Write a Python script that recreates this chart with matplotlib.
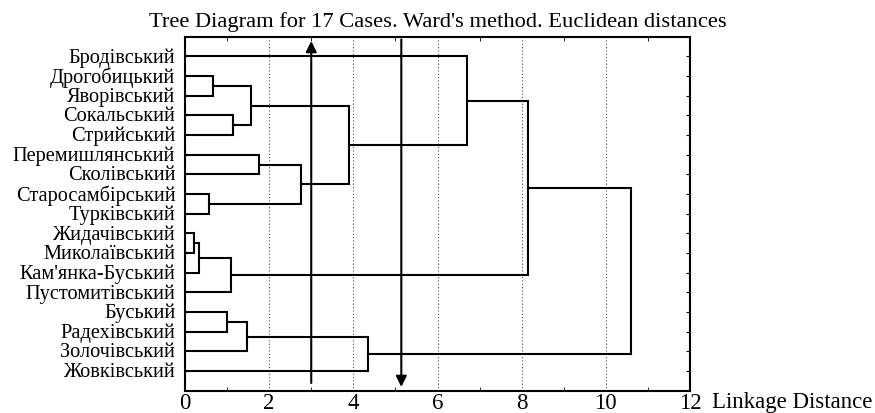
import matplotlib
matplotlib.use("Agg")
import matplotlib.pyplot as plt
import matplotlib.transforms as mtransforms
from matplotlib.ticker import MultipleLocator

# === DATA ===
labels = [
    "Бродівський", "Дрогобицький", "Яворівський", "Сокальський", "Стрийський",
    "Перемишлянський", "Сколівський", "Старосамбірський", "Турківський",
    "Жидачівський", "Миколаївський", "Кам'янка-Буський", "Пустомитівський",
    "Буський", "Радехівський", "Золочівський", "Жовківський",
]
# merges: (child a, child b, linkage distance); leaves 0..16, new clusters 17..
merge_a = [9, 17, 7, 1, 13, 18, 3, 21, 20, 5, 26, 25, 24, 0, 30, 31]
merge_b = [10, 11, 8, 2, 14, 12, 4, 15, 23, 6, 19, 27, 16, 28, 22, 29]
merge_dist = [0.22, 0.34, 0.57, 0.67, 0.99, 1.10, 1.13, 1.47, 1.56, 1.77,
              2.76, 3.89, 4.36, 6.69, 8.15, 10.6]
cut_up = 3.0     # arrow pointing up
cut_down = 5.14  # arrow pointing down

# === LAYOUT ===
pos = {i: i + 1 for i in range(len(labels))}
height = {i: 0.0 for i in range(len(labels))}

plt.rcParams["font.family"] = ["Liberation Serif", "DejaVu Serif"]
fig = plt.figure(figsize=(8.75, 4.14), dpi=100)
ax = fig.add_axes([0.2114, 0.0539, 0.5772, 0.8551])

for k, (a, b, d) in enumerate(zip(merge_a, merge_b, merge_dist)):
    new = len(labels) + k
    ax.plot([height[a], d, d, height[b]], [pos[a], pos[a], pos[b], pos[b]],
            color="black", lw=1.5, solid_joinstyle="miter")
    pos[new] = (pos[a] + pos[b]) / 2
    height[new] = d

ax.annotate("", xy=(cut_up, 0.08), xytext=(cut_up, 17.75),
            arrowprops=dict(arrowstyle="-|>", color="black", lw=1.5, mutation_scale=16))
ax.annotate("", xy=(cut_down, 17.95), xytext=(cut_down, 0.0),
            arrowprops=dict(arrowstyle="-|>", color="black", lw=1.5, mutation_scale=16))

ax.set_xlim(0, 12)
ax.set_ylim(18, 0)
ax.xaxis.set_major_locator(MultipleLocator(2))
ax.xaxis.set_minor_locator(MultipleLocator(1))
ax.grid(True, axis="x", which="major", color="#555555", ls=(0, (1, 2)), lw=0.8)

ax.set_yticks(range(1, len(labels) + 1))
ax.set_yticklabels(labels, fontsize=14.7)
ax.tick_params(axis="y", direction="in", left=False, right=True, length=3, pad=7)
ax.tick_params(axis="x", which="both", direction="in", top=True, bottom=True,
               labelsize=16.5, pad=1)
ax.tick_params(axis="x", which="major", length=0)
ax.tick_params(axis="x", which="minor", length=3)
# nudge the case labels up a little, as in the original
shift = mtransforms.ScaledTranslation(0, 2 / 100, fig.dpi_scale_trans)
for lab in ax.get_yticklabels():
    lab.set_transform(lab.get_transform() + shift)
for s in ax.spines.values():
    s.set_linewidth(1.5)

fig.text(0.5, 1 - 27.5 / 414, "Tree Diagram for 17 Cases. Ward's method. Euclidean distances",
         fontsize=16.2, ha="center", va="baseline")
fig.text(712 / 875, 1 - 403 / 414, "Linkage Distance", fontsize=16.5,
         ha="left", va="center")

plt.savefig("out.png", dpi=100)
